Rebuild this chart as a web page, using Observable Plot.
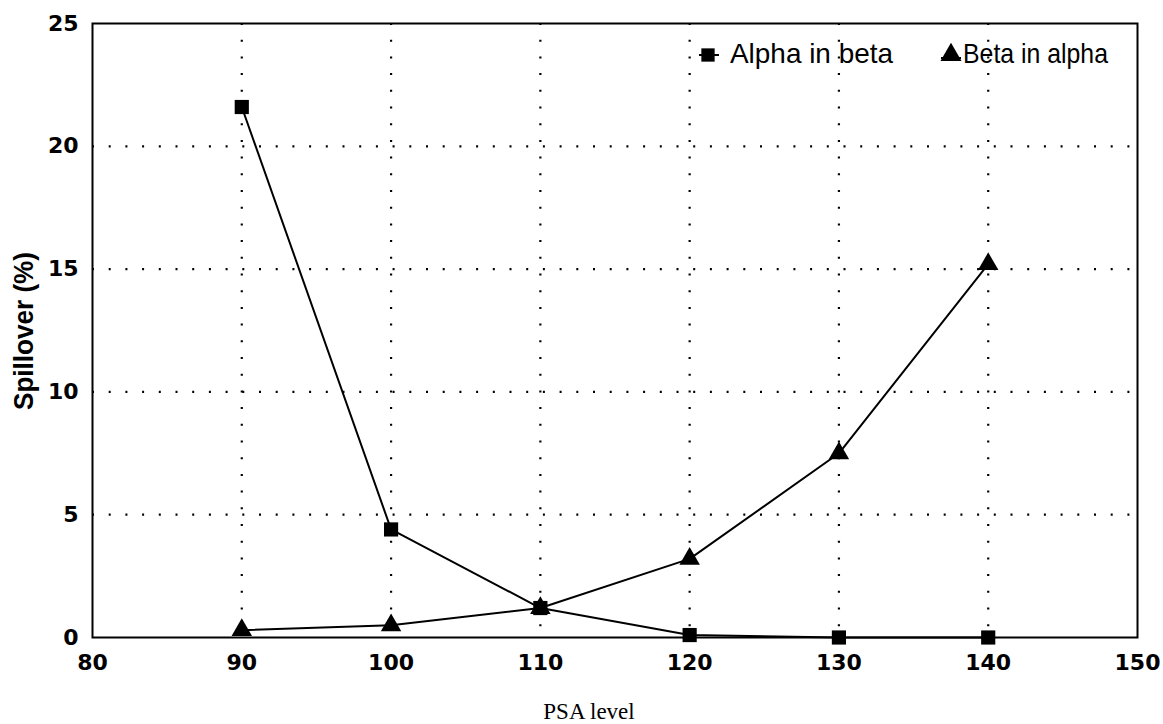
<!DOCTYPE html>
<html>
<head>
<meta charset="utf-8">
<script src="https://cdn.jsdelivr.net/npm/d3@7"></script>
<script src="https://cdn.jsdelivr.net/npm/@observablehq/plot@0.6"></script>
<style>
  html, body { margin: 0; padding: 0; background: #fff; }
  #chart svg { display: block; }
</style>
</head>
<body>
<div id="chart"></div>
<script>
// ---- data ----
const psaLevels   = [90, 100, 110, 120, 130, 140];
const alphaInBeta = [21.6, 4.4, 1.2, 0.1, 0, 0];
const betaInAlpha = [0.3, 0.5, 1.2, 3.2, 7.5, 15.2];
const xTicks = [80, 90, 100, 110, 120, 130, 140, 150];
const yTicks = [0, 5, 10, 15, 20, 25];
const xGrid  = [90, 100, 110, 120, 130, 140];
const yGrid  = [5, 10, 15, 20];
const seriesNames = ["Alpha in beta", "Beta in alpha"];
const xLabel = "PSA level";
const yLabel = "Spillover (%)";

const alphaData = psaLevels.map((x, i) => ({x, y: alphaInBeta[i]}));
const betaData  = psaLevels.map((x, i) => ({x, y: betaInAlpha[i]}));

const W = 1163, H = 724;
const mL = 92, mR = 26, mT = 23, mB = 87;

const tickFont = {fontSize: 22, fontWeight: "bold", fontFamily: "DejaVu Sans, sans-serif", fill: "black"};
const dotted = {stroke: "black", strokeOpacity: 1, strokeWidth: 2.2, strokeDasharray: "2,14.7"};

const chart = Plot.plot({
  width: W, height: H,
  marginLeft: mL, marginRight: mR, marginTop: mT, marginBottom: mB,
  style: {background: "white", color: "black", overflow: "visible"},
  x: {domain: [80, 150]},
  y: {domain: [0, 25]},
  marks: [
    Plot.gridX(xGrid, dotted),
    Plot.gridY(yGrid, dotted),
    Plot.frame({stroke: "black", strokeWidth: 2}),
    Plot.line(alphaData, {x: "x", y: "y", stroke: "black", strokeWidth: 2}),
    Plot.line(betaData, {x: "x", y: "y", stroke: "black", strokeWidth: 2}),
    Plot.dot(alphaData, {x: "x", y: "y", symbol: "square", r: 8, fill: "black", stroke: "none"}),
    Plot.dot(betaData, {x: "x", y: "y", symbol: "triangle", r: 7.6, fill: "black", stroke: "none"}),
    Plot.axisX(xTicks, {tickSize: 0, tickPadding: 17, label: null, ...tickFont}),
    Plot.axisY(yTicks, {tickSize: 0, tickPadding: 14, label: null, ...tickFont})
  ]
});

document.getElementById("chart").appendChild(chart);

// ---- labels and legend ----
const svg = d3.select(chart);

svg.append("text")
  .attr("transform", "translate(33,331) rotate(-90)")
  .attr("text-anchor", "middle")
  .attr("font-family", "Liberation Sans, Arial, sans-serif")
  .attr("font-weight", "bold")
  .attr("font-size", 28)
  .attr("textLength", 158)
  .attr("lengthAdjust", "spacingAndGlyphs")
  .attr("fill", "black")
  .text(yLabel);

svg.append("text")
  .attr("x", 589).attr("y", 719)
  .attr("text-anchor", "middle")
  .attr("font-family", "Liberation Serif, Times New Roman, serif")
  .attr("font-size", 23)
  .attr("fill", "black")
  .text(xLabel);

const lg = svg.append("g").attr("text-anchor", "start");
// series 1
lg.append("line").attr("x1", 699).attr("x2", 719).attr("y1", 55).attr("y2", 55).attr("stroke", "black").attr("stroke-width", 2);
lg.append("path").attr("d", d3.symbol(d3.symbolSquare, Math.PI * 7.5 * 7.5)()).attr("transform", "translate(708,55)").attr("fill", "black");
lg.append("text").attr("x", 730).attr("y", 63)
  .attr("text-anchor", "start")
  .attr("font-family", "Liberation Sans, Arial, sans-serif").attr("font-size", 28)
  .attr("textLength", 163).attr("lengthAdjust", "spacingAndGlyphs")
  .attr("fill", "black").text(seriesNames[0]);
// series 2
lg.append("line").attr("x1", 941).attr("x2", 961).attr("y1", 58).attr("y2", 58).attr("stroke", "black").attr("stroke-width", 2);
lg.append("path").attr("d", d3.symbol(d3.symbolTriangle, Math.PI * 7.8 * 7.8)()).attr("transform", "translate(951,55)").attr("fill", "black");
lg.append("text").attr("x", 963).attr("y", 63)
  .attr("text-anchor", "start")
  .attr("font-family", "Liberation Sans, Arial, sans-serif").attr("font-size", 28)
  .attr("textLength", 145).attr("lengthAdjust", "spacingAndGlyphs")
  .attr("fill", "black").text(seriesNames[1]);
</script>
</body>
</html>
